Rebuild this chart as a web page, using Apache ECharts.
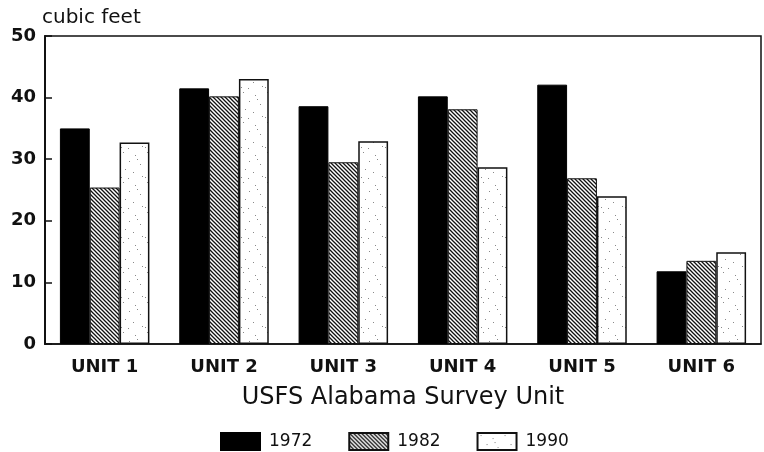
<!DOCTYPE html>
<html>
<head>
<meta charset="utf-8">
<script src="https://cdn.jsdelivr.net/npm/echarts@6/dist/echarts.min.js"></script>
<style>
html,body{margin:0;padding:0;background:#fff;}
#main{width:764px;height:452px;}
</style>
</head>
<body>
<div id="main"></div>
<script>
var units=["UNIT 1","UNIT 2","UNIT 3","UNIT 4","UNIT 5","UNIT 6"];
var years=["1972","1982","1990"];
var v1972=[35,41.5,38.6,40.2,42.1,11.8];
var v1982=[25.4,40.2,29.5,38.1,26.9,13.5];
var v1990=[32.7,43,32.9,28.7,24,14.9];
var yTicks=[0,10,20,30,40,50];

// hatch fill for 1982
function hatch(){
    var c=document.createElement('canvas');
    c.width=4;c.height=4;
    var g=c.getContext('2d');
    g.fillStyle='#fff';g.fillRect(0,0,4,4);
    g.strokeStyle='#111';g.lineWidth=1.3;
    g.beginPath();
    g.moveTo(-1,-1);g.lineTo(5,5);
    g.moveTo(3,-1);g.lineTo(5,1);
    g.moveTo(-1,3);g.lineTo(1,5);
    g.stroke();
    return c;
}
// sparse stipple for 1990
function stipple(){
    var c=document.createElement('canvas');
    c.width=24;c.height=30;
    var g=c.getContext('2d');
    g.fillStyle='#fff';g.fillRect(0,0,24,30);
    g.fillStyle='#888';
    var pts=[[3,2],[15,5],[9,11],[20,14],[5,19],[13,22],[22,26],[1,27],[17,9],[8,28]];
    pts.forEach(function(p){g.fillRect(p[0],p[1],1,1);});
    return c;
}

var font='"DejaVu Sans", Arial, sans-serif';
var chart=echarts.init(document.getElementById('main'));
var option={
    animation:false,
    backgroundColor:'#fff',
    grid:{left:45,right:3,top:36,bottom:108,show:true,borderColor:'#111',borderWidth:1.5},
    legend:{
        data:years,
        icon:'rect',
        padding:0,
        top:432,left:220,
        itemWidth:39,itemHeight:17,itemGap:36,
        textStyle:{fontFamily:font,fontSize:17,color:'#111',padding:[0,0,0,4]}
    },
    xAxis:{
        type:'category',
        data:units,
        axisLine:{lineStyle:{color:'#111',width:1.5}},
        axisTick:{show:false},
        axisLabel:{fontFamily:font,fontSize:18,fontWeight:'bold',color:'#111',margin:14},
        name:'USFS Alabama Survey Unit',
        nameLocation:'middle',
        nameGap:42,
        nameTextStyle:{fontFamily:font,fontSize:24,color:'#111'}
    },
    yAxis:{
        type:'value',
        min:yTicks[0],max:yTicks[yTicks.length-1],interval:10,
        name:'cubic feet',
        nameGap:8,
        nameTextStyle:{fontFamily:font,fontSize:20,color:'#111',align:'left',padding:[0,0,0,-3]},
        axisLine:{show:true,lineStyle:{color:'#111',width:2}},
        axisTick:{show:true,inside:true,length:7,lineStyle:{color:'#111',width:1.5}},
        axisLabel:{fontFamily:font,fontSize:18,fontWeight:'bold',color:'#111',margin:9},
        splitLine:{show:false}
    },
    series:[
        {name:years[0],type:'bar',data:v1972,barGap:'0%',barCategoryGap:'25%',
         itemStyle:{color:'#000',borderColor:'#000',borderWidth:1}},
        {name:years[1],type:'bar',data:v1982,barGap:'0%',barCategoryGap:'25%',
         itemStyle:{color:{image:hatch(),repeat:'repeat'},borderColor:'#111',borderWidth:1}},
        {name:years[2],type:'bar',data:v1990,barGap:'0%',barCategoryGap:'25%',
         itemStyle:{color:{image:stipple(),repeat:'repeat'},borderColor:'#111',borderWidth:1.5}}
    ]
};
chart.setOption(option);
</script>
</body>
</html>
